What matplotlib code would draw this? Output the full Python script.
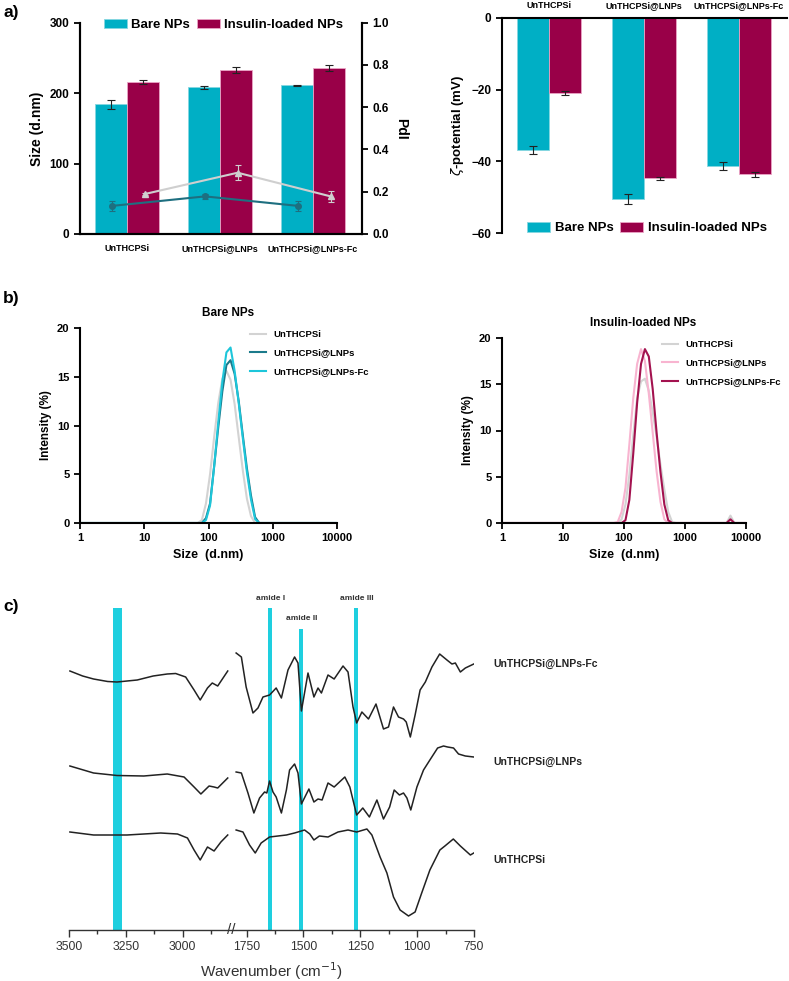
import numpy as np
import matplotlib
matplotlib.use('Agg')
import matplotlib.pyplot as plt
from matplotlib.ticker import NullLocator, FormatStrFormatter
from matplotlib.transforms import blended_transform_factory

plt.rcParams['font.family'] = ['Liberation Sans', 'DejaVu Sans']

# ---------------- data ----------------
samples = ['UnTHCPSi', 'UnTHCPSi@LNPs', 'UnTHCPSi@LNPs-Fc']
groups = ['Bare NPs', 'Insulin-loaded NPs']

size_bare = [184, 208, 211]
size_bare_err = [6, 2.4, 0.5]
size_ins = [216, 233, 236]
size_ins_err = [3, 4, 4.5]

pdi_bare = [0.133, 0.178, 0.133]
pdi_bare_err = [0.025, 0.012, 0.025]
pdi_ins = [0.189, 0.29, 0.178]
pdi_ins_err = [0.005, 0.035, 0.025]

zeta_bare = [-36.8, -50.5, -41.3]
zeta_bare_err = [1.1, 1.3, 1.0]
zeta_ins = [-20.9, -44.7, -43.6]
zeta_ins_err = [0.65, 0.4, 0.65]

dls_sizes = [1, 68.06, 78.82, 91.28, 105.7, 122.4, 141.8, 164.2, 190.1, 220.2, 255.0,
             295.3, 342.0, 396.1, 458.7, 531.2, 615.1, 712.4, 4145, 4801, 5560, 6439, 10000]
bare_un = [0, 0, 0.3, 2.0, 5.0, 8.8, 12.3, 14.8, 15.6, 14.7, 12.2, 8.8, 5.4, 2.5, 0.7, 0, 0, 0, 0, 0, 0, 0, 0]
bare_lnp = [0, 0, 0, 0.5, 2.0, 5.8, 9.8, 13.5, 16.2, 16.7, 15.3, 12.5, 9.0, 5.6, 2.8, 0.6, 0, 0, 0, 0, 0, 0, 0]
bare_fc = [0, 0, 0, 0.3, 1.8, 5.8, 10.3, 14.5, 17.5, 18.0, 15.6, 12.3, 8.7, 5.2, 2.4, 0.4, 0, 0, 0, 0, 0, 0, 0]
ins_un = [0, 0, 0, 0.4, 2.0, 5.2, 9.5, 13.5, 15.3, 15.6, 14.3, 12.0, 9.3, 6.3, 3.6, 1.2, 0.1, 0, 0, 0, 0.8, 0, 0]
ins_lnp = [0, 0, 0.1, 1.2, 3.8, 8.5, 13.5, 17.2, 18.8, 17.5, 14.0, 9.8, 5.6, 2.3, 0.4, 0, 0, 0, 0, 0, 0, 0, 0]
ins_fc = [0, 0, 0, 0, 0.3, 2.5, 7.5, 13.0, 17.2, 18.8, 18.0, 14.5, 9.8, 5.5, 2.0, 0.3, 0, 0, 0, 0, 0.4, 0, 0]

ftir_labels = ['UnTHCPSi@LNPs-Fc', 'UnTHCPSi@LNPs', 'UnTHCPSi']
fc_wn = [3496, 3440, 3392, 3330, 3289, 3200, 3130, 3068, 3031, 2987, 2950, 2923, 2891, 2870, 2846, 2802,
         1796, 1773, 1752, 1722, 1700, 1678, 1649, 1620, 1597, 1568, 1539, 1524, 1509, 1480, 1454, 1436,
         1421, 1392, 1365, 1326, 1304, 1282, 1266, 1243, 1214, 1181, 1148, 1126, 1104, 1082, 1060, 1048,
         1030, 1009, 987, 964, 935, 901, 869, 847, 832, 810, 788, 751]
fc_h = [259, 254, 251, 248.5, 248, 250, 254, 256, 256.5, 253, 240, 230, 242, 247, 244, 259,
        277, 273, 243, 217, 222, 233, 235, 242, 232, 260, 273, 267, 219, 257, 233, 242,
        237, 255, 251, 264, 258, 223, 207, 218, 211, 226, 201, 203, 223, 213, 211, 208,
        193, 215, 240, 248, 263, 276, 270, 266, 267, 258, 262, 266]
lnp_wn = [3496, 3392, 3289, 3171, 3068, 2994, 2950, 2920, 2884, 2862, 2846, 2802,
          1796, 1773, 1744, 1718, 1693, 1671, 1661, 1649, 1634, 1620, 1597, 1575, 1561, 1539, 1524,
          1509, 1476, 1454, 1436, 1418, 1392, 1365, 1318, 1296, 1266, 1239, 1210, 1177, 1148, 1121,
          1101, 1078, 1060, 1045, 1028, 1001, 972, 944, 910, 884, 866, 840, 818, 788, 751]
lnp_h = [164, 157, 154.5, 154, 156, 153, 143, 136, 144, 143, 142, 152,
         158, 157, 137, 117, 132, 138, 137, 149, 138, 133, 117, 140, 160, 166, 157,
         126, 141, 128, 131, 130, 147, 143, 153, 143, 115, 122, 113, 130, 111, 123,
         140, 135, 137, 132, 120, 143, 160, 170, 182, 184, 183, 182, 176, 174, 173]
un_wn = [3496, 3392, 3245, 3097, 3023, 2979, 2950, 2923, 2891, 2862, 2832, 2802,
         1796, 1766, 1737, 1712, 1686, 1649, 1575, 1539, 1495, 1472, 1454, 1430, 1392, 1348, 1304,
         1266, 1221, 1199, 1163, 1133, 1104, 1075, 1038, 1009, 980, 944, 900, 878, 841, 810, 766, 751]
un_h = [98, 95, 95, 97, 96, 92, 80, 70, 83, 79, 88, 95,
        100, 98, 85, 77, 87, 93, 95, 97, 100, 96, 90, 94, 93, 98, 100,
        98, 101, 95, 73, 57, 33, 20, 14, 18, 37, 60, 80, 84, 91, 84, 75, 77]

band_names = ['', 'amide I', 'amide II', 'amide III']
band_lo = [3266, 1637, 1501, 1258]
band_hi = [3308, 1655, 1518, 1276]
band_top = [322, 322, 301, 322]

# ---------------- style ----------------
CYAN = '#00AFC5'
MAG = '#990048'
CYAN_EDGE = '#86D6E0'
MAG_EDGE = '#EBA5C6'
PDI_BARE = '#1E6F80'
PDI_INS = '#CFCFCF'
BAND = '#1ECFDF'

W, H = 789, 981
fig = plt.figure(figsize=(W / 100, H / 100), dpi=100)


def rect(x0, y0, x1, y1):
    return [x0 / W, 1 - y1 / H, (x1 - x0) / W, (y1 - y0) / H]


BOLD = 'bold'
pos = np.arange(len(samples))

# ---------------- panel a (size + PdI) ----------------
ax = fig.add_axes(rect(80, 22.7, 362, 234))
bw = 0.34
ax.bar(pos - bw / 2, size_bare, bw, color=CYAN, edgecolor=CYAN_EDGE, lw=0.6, label=groups[0], zorder=2)
ax.bar(pos + bw / 2, size_ins, bw, color=MAG, edgecolor=MAG_EDGE, lw=0.6, label=groups[1], zorder=2)
ax.errorbar(pos - bw / 2, size_bare, yerr=size_bare_err, fmt='none', ecolor='#222222',
            elinewidth=0.8, capsize=3, capthick=0.8, zorder=3)
ax.errorbar(pos + bw / 2, size_ins, yerr=size_ins_err, fmt='none', ecolor='#222222',
            elinewidth=0.8, capsize=3, capthick=0.8, zorder=3)
ax.set_xlim(-0.505, 2.527)
ax.set_ylim(0, 300)
ax.set_yticks([0, 100, 200, 300])
ax.set_xticks(pos)
ax.set_xticklabels(samples, fontsize=6.5, fontweight=BOLD)
ax.tick_params(axis='x', length=0, pad=7)
ax.tick_params(axis='y', labelsize=8.5, width=1.3, length=4)
for t in ax.get_yticklabels():
    t.set_fontweight(BOLD)
ax.set_ylabel('Size (d.nm)', fontsize=10, fontweight=BOLD, labelpad=4)
ax.spines['top'].set_visible(False)
for s in ['left', 'right', 'bottom']:
    ax.spines[s].set_linewidth(1.5)
ax.legend(loc='center', bbox_to_anchor=(0.509, 0.99), ncol=2, frameon=False,
          prop=dict(size=9.5, weight=BOLD), handlelength=1.75, handleheight=0.75,
          columnspacing=0.5, handletextpad=0.35, borderpad=0)

ax2 = ax.twinx()
ax2.errorbar(pos - 0.16, pdi_bare, yerr=pdi_bare_err, color=PDI_BARE, marker='o', ms=4,
             lw=1.5, elinewidth=0.8, capsize=2.5, capthick=0.8, zorder=4)
ax2.errorbar(pos + 0.19, pdi_ins, yerr=pdi_ins_err, color=PDI_INS, marker='^', ms=4.5,
             lw=1.5, elinewidth=0.8, capsize=2.5, capthick=0.8, zorder=4)
ax2.set_ylim(0, 1)
ax2.set_yticks(np.arange(0, 1.01, 0.2))
ax2.yaxis.set_major_formatter(FormatStrFormatter('%.1f'))
ax2.tick_params(axis='y', labelsize=8.5, width=1.3, length=4)
for t in ax2.get_yticklabels():
    t.set_fontweight(BOLD)
ax2.set_ylabel('PdI', fontsize=10, fontweight=BOLD, rotation=270, va='bottom', labelpad=4)
ax2.spines['top'].set_visible(False)
for s in ['left', 'right', 'bottom']:
    ax2.spines[s].set_linewidth(1.5)

# ---------------- panel a (zeta) ----------------
az = fig.add_axes(rect(502, 18, 787, 233))
bw2 = 0.337
az.bar(pos - bw2 / 2, zeta_bare, bw2, color=CYAN, edgecolor=CYAN_EDGE, lw=0.6, label=groups[0], zorder=2)
az.bar(pos + bw2 / 2, zeta_ins, bw2, color=MAG, edgecolor=MAG_EDGE, lw=0.6, label=groups[1], zorder=2)
az.errorbar(pos - bw2 / 2, zeta_bare, yerr=zeta_bare_err, fmt='none', ecolor='#222222',
            elinewidth=0.8, capsize=3, capthick=0.8, zorder=3)
az.errorbar(pos + bw2 / 2, zeta_ins, yerr=zeta_ins_err, fmt='none', ecolor='#222222',
            elinewidth=0.8, capsize=3, capthick=0.8, zorder=3)
az.set_xlim(-0.495, 2.505)
az.set_ylim(-60, 0)
az.set_yticks([0, -20, -40, -60])
az.xaxis.tick_top()
az.set_xticks(pos)
az.set_xticklabels(samples, fontsize=6.5, fontweight=BOLD)
az.tick_params(axis='x', length=0, pad=6)
az.tick_params(axis='y', labelsize=8.5, width=1.3, length=4)
for t in az.get_yticklabels():
    t.set_fontweight(BOLD)
az.set_ylabel(r'$\zeta$-potential (mV)', fontsize=9.5, fontweight=BOLD, labelpad=4)
az.spines['bottom'].set_visible(False)
az.spines['right'].set_visible(False)
az.spines['top'].set_linewidth(1.5)
az.spines['left'].set_linewidth(1.5)
az.legend(loc='center', bbox_to_anchor=(0.508, 0.022), ncol=2, frameon=False,
          prop=dict(size=9.5, weight=BOLD), handlelength=1.75, handleheight=0.75,
          columnspacing=0.5, handletextpad=0.35, borderpad=0)

# ---------------- panel b ----------------
def dls_axes(r, title, title_x, series, colors, leg_anchor):
    a = fig.add_axes(r)
    for vals, col, lab in zip(series, colors, samples):
        a.plot(dls_sizes, vals, color=col, lw=1.5, label=lab)
    a.set_xscale('log')
    a.set_xlim(1, 10000)
    a.set_ylim(0, 20)
    a.set_xticks([1, 10, 100, 1000, 10000])
    a.set_xticklabels(['1', '10', '100', '1000', '10000'])
    a.xaxis.set_minor_locator(NullLocator())
    a.set_yticks([0, 5, 10, 15, 20])
    a.tick_params(labelsize=8, width=1.3, length=4)
    for t in a.get_xticklabels() + a.get_yticklabels():
        t.set_fontweight(BOLD)
    a.spines['top'].set_visible(False)
    a.spines['right'].set_visible(False)
    a.spines['left'].set_linewidth(1.5)
    a.spines['bottom'].set_linewidth(1.5)
    a.set_xlabel('Size  (d.nm)', fontsize=9, fontweight=BOLD, labelpad=4)
    a.set_ylabel('Intensity (%)', fontsize=8.5, fontweight=BOLD, labelpad=4)
    a.set_title(title, fontsize=8.5, fontweight=BOLD, x=title_x, pad=9)
    a.legend(loc='upper left', bbox_to_anchor=leg_anchor, bbox_transform=fig.transFigure,
             frameon=False, prop=dict(size=6.8, weight=BOLD), handlelength=1.7,
             handletextpad=0.8, labelspacing=1.0, borderpad=0, borderaxespad=0)
    return a


dls_axes(rect(80, 328, 337, 523), 'Bare NPs', 0.576, [bare_un, bare_lnp, bare_fc],
         ['#D3D3D3', '#1B7A8B', '#1DC6DA'], (250 / W, 1 - 330 / H))
dls_axes(rect(502, 338, 746, 523), 'Insulin-loaded NPs', 0.578, [ins_un, ins_lnp, ins_fc],
         ['#D3D3D3', '#F8B4D0', '#A3124F'], (662 / W, 1 - 340 / H))

# ---------------- panel c (FTIR, broken axis) ----------------
BRK_HI, BRK_LO, GAP = 2800.0, 1800.0, 31.0
KG = GAP / (BRK_HI - BRK_LO)


def fwd(w):
    w = np.asarray(w, dtype=float)
    return np.where(w <= BRK_LO, w,
                    np.where(w >= BRK_HI, w - (BRK_HI - BRK_LO) + GAP, BRK_LO + (w - BRK_LO) * KG))


def inv(p):
    p = np.asarray(p, dtype=float)
    return np.where(p <= BRK_LO, p,
                    np.where(p >= BRK_LO + GAP, p + (BRK_HI - BRK_LO) - GAP, BRK_LO + (p - BRK_LO) / KG))


ac = fig.add_axes(rect(69, 590, 474, 930))
ac.set_xscale('function', functions=(fwd, inv))
ac.set_xlim(3500, 750)
ac.set_ylim(0, 340)

for lo, hi, top in zip(band_lo, band_hi, band_top):
    ac.axvspan(lo, hi, ymin=0, ymax=top / 340, color=BAND, lw=0, zorder=1)
for name, lo, hi, top in zip(band_names, band_lo, band_hi, band_top):
    if name:
        ac.text((lo + hi) / 2, top + 10, name, ha='center', va='center', fontsize=6,
                fontweight=BOLD, color='#333333')

for wn, hh in [(fc_wn, fc_h), (lnp_wn, lnp_h), (un_wn, un_h)]:
    wn = np.asarray(wn, dtype=float)
    hh = np.asarray(hh, dtype=float)
    for m in [wn > 2300, wn < 2300]:
        ac.plot(wn[m], hh[m], color='#222222', lw=1.1, zorder=3, solid_joinstyle='round')

label_y = [664, 762, 860]
for lab, yy in zip(ftir_labels, label_y):
    fig.text(493 / W, 1 - yy / H, lab, ha='left', va='center', fontsize=7.5, fontweight=BOLD,
             color='#222222')

ac.set_xticks([3500, 3250, 3000, 1750, 1500, 1250, 1000, 750])
ac.set_xticklabels(['3500', '3250', '3000', '1750', '1500', '1250', '1000', '750'])
ac.set_xticks([3375, 3125, 2875, 1625, 1375, 1125, 875], minor=True)
ac.tick_params(axis='x', which='major', length=5, width=1, labelsize=8.8, color='#333333',
               labelcolor='#333333', pad=3)
ac.tick_params(axis='x', which='minor', length=3, width=1, color='#333333')
ac.set_yticks([])
for s in ['left', 'right', 'top']:
    ac.spines[s].set_visible(False)
ac.spines['bottom'].set_color('#333333')
ac.spines['bottom'].set_linewidth(1.0)
ac.set_xlabel('Wavenumber (cm$^{-1}$)', fontsize=11, color='#333333', labelpad=5)
tr = blended_transform_factory(ac.transData, ac.transAxes)
ac.text(2300, 0, '//', transform=tr, ha='center', va='center', fontsize=11, color='#333333',
        clip_on=False)

# ---------------- panel labels ----------------
fig.text(3 / W, 1 - 12 / H, 'a)', fontsize=12.5, fontweight=BOLD, va='center', ha='left')
fig.text(3 / W, 1 - 298 / H, 'b)', fontsize=12.5, fontweight=BOLD, va='center', ha='left')
fig.text(3 / W, 1 - 607 / H, 'c)', fontsize=12.5, fontweight=BOLD, va='center', ha='left')

fig.savefig('out.png', dpi=100)
